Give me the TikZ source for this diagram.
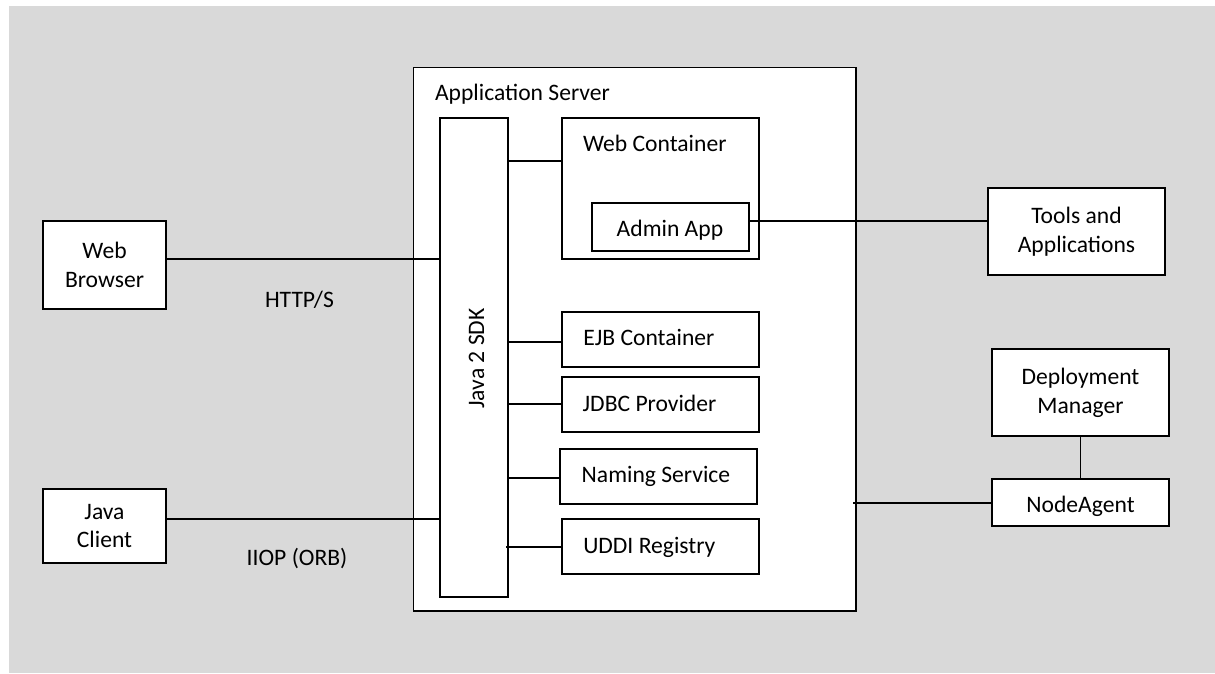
\documentclass[tikz,border=0pt]{standalone}
\usepackage{fontspec}
\setmainfont{Carlito}
\definecolor{bggray}{HTML}{D9D9D9}
\begin{document}
\begin{tikzpicture}[x=1pt,y=-1pt,line width=1.4pt,
  box/.style={draw=black,fill=white,inner sep=0pt,outer sep=0pt},
  txt/.style={font=\fontsize{23.6}{28.8}\selectfont,inner sep=0pt,outer sep=0pt},
  twoline/.style={box,txt,align=center},
  conn/.style={draw=black,line width=1.4pt}]
\useasboundingbox (0,0) rectangle (1215,673);
\fill[bggray] (9,6) rectangle (1215,673);

% Application server
\node[box,minimum width=442.5pt,minimum height=543.5pt] (appsrv) at (634.75,339.25) {};
\node[txt,anchor=base west] (appsrvlbl) at (435,100.7) {Application Server};

% Java 2 SDK bar
\node[box,minimum width=68pt,minimum height=479pt] (sdk) at (474,357.5) {};
\node[txt,rotate=90,anchor=base] (sdklbl) at (484,358.5) {Java 2 SDK};

% Web container
\node[box,minimum width=197pt,minimum height=141pt] (webc) at (660.5,188.5) {};
\node[txt,anchor=base west] (webclbl) at (583,151.7) {Web Container};
\node[box,minimum width=157pt,minimum height=48pt] (admin) at (670.5,227) {};
\node[txt,anchor=base west] (adminlbl) at (616.7,236.7) {Admin App};

% Containers
\node[box,minimum width=197pt,minimum height=55pt] (ejb) at (660.5,339.5) {};
\node[txt,anchor=base west] (ejblbl) at (583.3,345) {EJB Container};
\node[box,minimum width=197pt,minimum height=55pt] (jdbc) at (660.5,404.5) {};
\node[txt,anchor=base west] (jdbclbl) at (582.7,411) {JDBC Provider};
\node[box,minimum width=197pt,minimum height=55pt] (naming) at (658.5,476.5) {};
\node[txt,anchor=base west] (naminglbl) at (581.7,482.3) {Naming Service};
\node[box,minimum width=197pt,minimum height=55pt] (uddi) at (660.5,546.5) {};
\node[txt,anchor=base west] (uddilbl) at (583.3,553.3) {UDDI Registry};

% Outside boxes
\node[twoline,minimum width=123pt,minimum height=88pt] (browser) at (104.5,265) {Web\\Browser};
\node[twoline,minimum width=123pt,minimum height=74pt] (jclient) at (104.5,526) {Java\\Client};
\node[twoline,minimum width=177pt,minimum height=87pt] (tools) at (1076.5,231.5) {Tools and\\Applications};
\node[twoline,minimum width=177pt,minimum height=87pt] (dm) at (1080.5,392.5) {Deployment\\Manager};
\node[box,txt,minimum width=177pt,minimum height=47pt] (na) at (1080.5,502.5) {};
\node[txt,anchor=base] (nalbl) at (1080.5,512.7) {NodeAgent};

% Protocol labels
\node[txt,anchor=base west] (httplbl) at (265,307.3) {HTTP/S};
\node[txt,anchor=base west] (iioplbl) at (246.7,565) {IIOP (ORB)};

% Connectors
\draw[conn] (browser.east |- 0,259) -- (sdk.west |- 0,259);
\draw[conn] (jclient.east |- 0,519) -- (sdk.west |- 0,519);
\draw[conn] (sdk.east |- 0,161) -- (webc.west |- 0,161);
\draw[conn] (sdk.east |- 0,342) -- (ejb.west |- 0,342);
\draw[conn] (sdk.east |- 0,404) -- (jdbc.west |- 0,404);
\draw[conn] (sdk.east |- 0,478) -- (naming.west |- 0,478);
\draw[conn] ([xshift=-2pt]sdk.east |- 0,547) -- (uddi.west |- 0,547);
\draw[conn] (admin.east |- 0,221) -- (tools.west |- 0,221);
\draw[conn] (dm.south) -- (na.north);
\draw[conn] ([xshift=-3pt]appsrv.east |- 0,503) -- (na.west |- 0,503);
\end{tikzpicture}
\end{document}
